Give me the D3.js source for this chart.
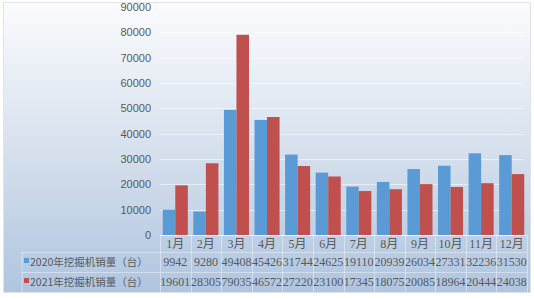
<!DOCTYPE html>
<html>
<head>
<meta charset="utf-8">
<script src="https://cdn.jsdelivr.net/npm/d3@7"></script>
<style>
  body { margin: 0; background: #fff; }
  svg { display: block; }
</style>
</head>
<body>
<svg id="chart"></svg>
<script>
let width = 534;
let height = 298;

let months = ["1月", "2月", "3月", "4月", "5月", "6月", "7月", "8月", "9月", "10月", "11月", "12月"];
let seriesNames = ["2020年挖掘机销量（台）", "2021年挖掘机销量（台）"];
let sales2020 = [9942, 9280, 49408, 45426, 31744, 24625, 19110, 20939, 26034, 27331, 32236, 31530];
let sales2021 = [19601, 28305, 79035, 46572, 27220, 23100, 17345, 18075, 20085, 18964, 20444, 24038];
let yTicks = [0, 10000, 20000, 30000, 40000, 50000, 60000, 70000, 80000, 90000];
let colors = ["#5b9bd5", "#c0504d"];

let plotLeft = 160, plotRight = 527, plotTop = 7, plotBottom = 235;
let rowY = [235, 252, 272, 292];

let svg = d3.select("#chart")
    .attr("width", width)
    .attr("height", height);

// background gradient like the office chart area
let grad = svg.append("defs").append("linearGradient")
    .attr("id", "bg")
    .attr("x1", 0).attr("y1", 0).attr("x2", 0).attr("y2", 1);
grad.append("stop").attr("offset", "0%").attr("stop-color", "#fbfcfe");
grad.append("stop").attr("offset", "55%").attr("stop-color", "#d3deec");
grad.append("stop").attr("offset", "100%").attr("stop-color", "#afc5e0");

svg.append("rect")
    .attr("x", 3.5).attr("y", 2.5)
    .attr("width", 527).attr("height", 290)
    .attr("fill", "url(#bg)")
    .attr("stroke", "#e3e3e3");

let x = d3.scaleBand()
    .domain(months)
    .range([plotLeft, plotRight])
    .paddingInner(0)
    .paddingOuter(0);

let x1 = d3.scaleBand()
    .domain([0, 1])
    .range([0, x.bandwidth()])
    .paddingInner(0)
    .paddingOuter(0.22);

let y = d3.scaleLinear()
    .domain([0, 90000])
    .range([plotBottom, plotTop]);

// gridlines
svg.append("g")
    .selectAll("line")
    .data(yTicks)
    .enter().append("line")
    .attr("x1", plotLeft)
    .attr("x2", plotRight - 4)
    .attr("y1", d => Math.round(y(d)) + 0.5)
    .attr("y2", d => Math.round(y(d)) + 0.5)
    .attr("stroke", "#ffffff")
    .attr("stroke-opacity", 0.55);

// y axis labels
let yAxis = d3.axisLeft(y).tickValues(yTicks).tickSize(0).tickPadding(0).tickFormat(d3.format("d"));
let yG = svg.append("g")
    .attr("transform", "translate(151,0)")
    .call(yAxis);
yG.select(".domain").remove();
yG.selectAll("text")
    .attr("fill", "#595959")
    .style("font-family", "'Liberation Sans', Arial, sans-serif")
    .style("font-size", "11px");

// bars
let series = [sales2020, sales2021];
series.forEach(function (values, si) {
    svg.append("g")
        .selectAll("rect")
        .data(values)
        .enter().append("rect")
        .attr("x", (d, i) => x(months[i]) + x1(si))
        .attr("width", x1.bandwidth())
        .attr("y", d => y(d))
        .attr("height", d => y(0) - y(d))
        .attr("fill", colors[si]);
});

// data table grid
let lineOpacity = 0.4;
let tableG = svg.append("g");
rowY.slice(0, 3).forEach(function (ry, k) {
    tableG.append("line")
        .attr("x1", k === 0 ? plotLeft : 22)
        .attr("x2", plotRight)
        .attr("y1", ry + 0.5).attr("y2", ry + 0.5)
        .attr("stroke", "#ffffff")
        .attr("stroke-opacity", lineOpacity);
});
tableG.append("line")
    .attr("x1", 22).attr("x2", 22)
    .attr("y1", rowY[1]).attr("y2", rowY[3])
    .attr("stroke", "#ffffff").attr("stroke-opacity", lineOpacity);
tableG.selectAll("line.col")
    .data(months)
    .enter().append("line")
    .attr("class", "col")
    .attr("x1", d => Math.round(x(d)) + 0.5)
    .attr("x2", d => Math.round(x(d)) + 0.5)
    .attr("y1", rowY[0]).attr("y2", rowY[3])
    .attr("stroke", "#ffffff").attr("stroke-opacity", lineOpacity);
tableG.append("line")
    .attr("x1", plotRight + 0.5).attr("x2", plotRight + 0.5)
    .attr("y1", rowY[0]).attr("y2", rowY[3])
    .attr("stroke", "#ffffff").attr("stroke-opacity", lineOpacity);

// month labels
svg.append("g")
    .selectAll("text")
    .data(months)
    .enter().append("text")
    .attr("x", d => x(d) + x.bandwidth() / 2)
    .attr("y", 248)
    .attr("text-anchor", "middle")
    .attr("fill", "#595959")
    .style("font-family", "'Liberation Serif', 'Noto Sans CJK SC', serif")
    .style("font-size", "12px")
    .text(d => d);

// table rows
series.forEach(function (values, si) {
    let cy = (rowY[si + 1] + rowY[si + 2]) / 2 + 4;
    svg.append("rect")
        .attr("x", 24).attr("y", cy - 8)
        .attr("width", 5).attr("height", 5)
        .attr("fill", colors[si]);
    svg.append("text")
        .attr("x", 30)
        .attr("y", cy)
        .attr("fill", "#595959")
        .style("font-family", "'Noto Sans CJK SC', sans-serif")
        .style("font-size", "10.5px")
        .text(seriesNames[si]);
    svg.append("g")
        .selectAll("text")
        .data(values)
        .enter().append("text")
        .attr("x", (d, i) => x(months[i]) + x.bandwidth() / 2)
        .attr("y", cy)
        .attr("text-anchor", "middle")
        .attr("fill", "#595959")
        .style("font-family", "'Liberation Serif', serif")
        .style("font-size", "12px")
        .text(d => d);
});
</script>
</body>
</html>
